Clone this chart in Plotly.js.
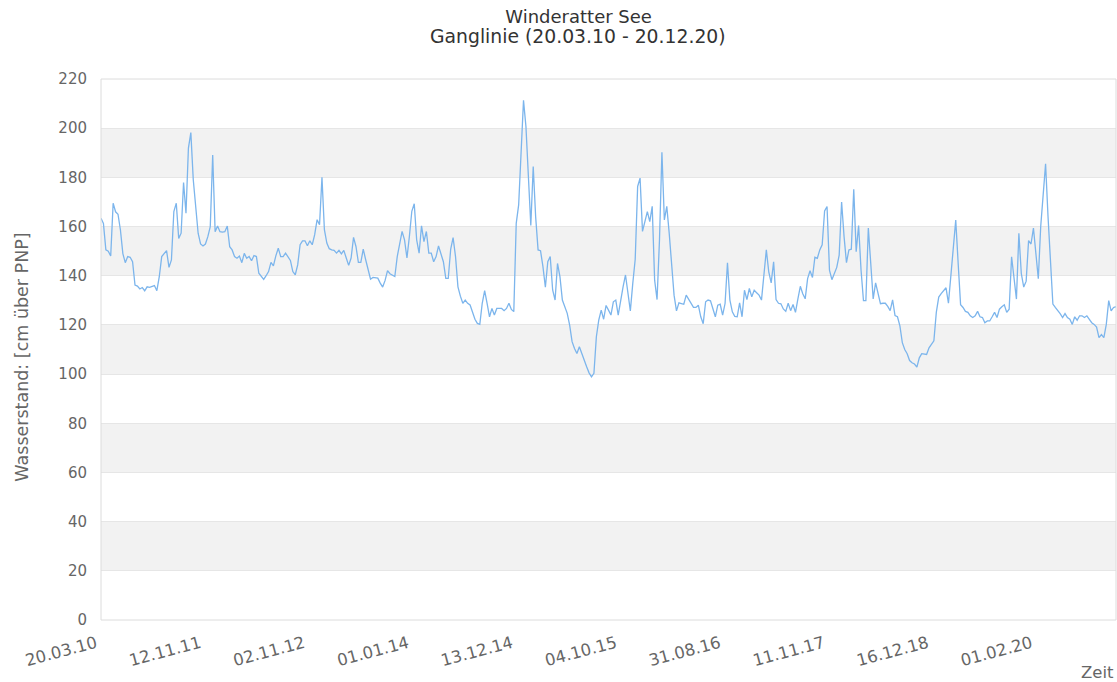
<!DOCTYPE html>
<html><head><meta charset="utf-8">
<script src="https://cdn.plot.ly/plotly-3.0.1.min.js"></script>
<style>html,body{margin:0;padding:0;background:#fff}</style>
</head><body><div id="chart" style="width:1117px;height:682px"></div>
<script>
const titleMain = "Winderatter See";
const titleSub = "Ganglinie (20.03.10 - 20.12.20)";
const yTitle = "Wasserstand: [cm über PNP]";
const xTitle = "Zeit";
const tickLabels = ["20.03.10","12.11.11","02.11.12","01.01.14","13.12.14","04.10.15","31.08.16","11.11.17","16.12.18","01.02.20"];
const pointsPerTick = 42.8;
const yTicks = [0,20,40,60,80,100,120,140,160,180,200,220];
const bandRanges = [[20,40],[60,80],[100,120],[140,160],[180,200]];

const wasserstand = [
163.4,161.3,150.5,150,148,169.5,166,165,158.6,149,
145.3,147.8,147.5,145.7,136.2,135.8,134.6,135.2,133.9,135.5,
135.3,135.6,136,133.9,139.6,147.8,149.1,150.2,143.4,146.4,
166.1,169.5,155.2,157.3,177.9,165.4,191.9,198.2,179,166.8,
157.3,152.9,152.1,152.9,155.9,160,189.1,157.9,160.2,157.9,
157.7,157.9,160.2,151.8,150.5,147.8,147.1,148,145.3,149.1,
147.1,147.8,146.1,148.2,147.8,141,139.5,138.5,140,
141.7,145.4,144,148.1,151.2,147.8,147.8,149.2,147.4,146.2,
141.7,140.4,144.4,152.6,154.2,154.2,152.2,154.2,152.6,156.7,
162.8,160.7,180,158.7,153.3,151,150.5,150.3,149.2,150.3,
148.9,150.3,147.2,144.2,147.2,155.6,151.9,145.4,145.4,150.8,
146.5,142.4,138.6,139.3,139.1,139,137,135.4,138.1,142.1,
140.8,140.2,139.7,147.8,153,158,154.6,147.2,156,166.2,
169.3,154.6,149.2,160.3,153.9,158,149.2,149.2,
145.7,147.8,152.1,148.4,145.7,138.9,138.9,150.7,155.5,147.8,
135.5,131.7,128.8,130.1,128.8,128.1,125.4,122.3,120.6,120.2,
128.8,133.9,128.8,123.3,126.7,124,126.7,126.7,126.7,125.8,
126.7,128.8,126.3,125.4,161.3,168.8,188.5,211.3,200.7,180.3,
160.4,184.4,164,150.5,150.2,143.7,135.3,145.7,147.8,134.2,
130.1,145,139.6,130.1,127.4,124.7,119.9,113.2,110.4,108.4,
111.1,108.1,105.7,103,100.5,98.9,100.3,115.2,122,126,122.3,
127.9,126,124,129.4,130.1,124,130.1,135.5,140.3,133.1,
125.7,136.9,146.7,176.3,179.7,158,162.7,166.1,162,168.2,
138.2,130.3,154.6,190.2,162.7,168.2,157.3,145,132.1,125.7,
129,128.7,128.4,132.1,130.3,129,127.1,127.1,128,123.3,
120.5,129.4,130.1,129.8,126,123.3,128,128.4,124,128.7,
145.3,130.1,125.3,123.5,123.3,129,123.3,134.1,130.3,134.8,
131.4,134.1,133.1,132.1,130.1,139.6,150.5,141.6,137.1,145.7,130.3,
128.8,128.6,126.5,125.5,128.8,125.8,128.3,125.1,130.6,135.7,
132.7,130.6,138.8,142,139.3,147.5,147.1,150.5,152.6,166.3,
168.1,142.3,138.4,140.9,143.4,148.4,170,156,145.3,150.5,
150.8,175.2,149.8,160.4,142.3,129.9,129.9,159.4,145,130.6,
137.1,132.7,128.6,128.8,128.8,127.5,125.8,130.2,123.8,123.3,
119.6,112.8,110,108.3,105.5,104.6,104.1,102.8,106.6,108.3,
108,108,110.7,112.4,113.5,125.1,131.3,132.7,133.8,135.1,128.8,
140,150.5,162.6,145,128.2,127.1,125.5,125.1,123.7,123,
123.7,125.5,123.3,123,120.9,121.6,121.6,123.3,125.1,123,
126.4,127.4,128.2,125.1,126.4,147.7,139.5,130.5,157.3,140.9,
135.4,137.8,154.3,152.9,159.4,147.7,138.8,160.1,171.1,185.5,
164.2,143.6,128.5,127.1,126,124.6,123,124.6,123,122.3,
120.2,123.3,121.9,123.7,123.7,123,123.7,122.3,120.9,120.2,
119.1,114.8,116.1,114.8,120.2,129.9,125.7,127.1,127.4
];

const lastIndex = wasserstand.length - 1;
const tickVals = tickLabels.map((_, i) => i * pointsPerTick);

const font = "DejaVu Sans, Verdana, sans-serif";
const shapes = bandRanges.map(r => ({
  type: "rect", xref: "paper", yref: "y", x0: 0, x1: 1, y0: r[0], y1: r[1],
  fillcolor: "#f2f2f2", line: {width: 0}, layer: "below"
}));
shapes.push({type: "rect", xref: "paper", yref: "paper", x0: 0, x1: 1, y0: 0, y1: 1,
  line: {color: "#dcdcdc", width: 1}, fillcolor: "rgba(0,0,0,0)", layer: "above"});

const trace = {
  y: wasserstand,
  type: "scatter",
  mode: "lines",
  line: {color: "#7cb5ec", width: 1.3},
  hoverinfo: "y"
};

const layout = {
  width: 1117, height: 682,
  margin: {l: 101, r: 1, t: 79, b: 62},
  paper_bgcolor: "#fff", plot_bgcolor: "#fff",
  showlegend: false,
  font: {family: font, color: "#666", size: 15},
  title: {text: titleMain, x: 0.518, xref: "container", xanchor: "center",
          y: 0.975, yref: "container", yanchor: "middle",
          font: {family: font, size: 18, color: "#333"}},
  xaxis: {range: [0, lastIndex], tickmode: "array", tickvals: tickVals, ticktext: tickLabels,
          tickangle: -15, showgrid: false, zeroline: false, showline: false,
          ticks: "", ticklabelstandoff: 10, ticklabelshift: -5,
          tickfont: {family: font, size: 16.5, color: "#666"}},
  yaxis: {range: [0, 220], tickmode: "array", tickvals: yTicks, showgrid: true,
          gridcolor: "#e6e6e6", gridwidth: 1, zeroline: false, showline: false,
          ticks: "outside", ticklen: 10, tickcolor: "rgba(0,0,0,0)",
          tickfont: {family: font, size: 15, color: "#666"}},
  shapes: shapes,
  annotations: [
    {text: titleSub, xref: "paper", yref: "paper", x: 0.47, y: 1.0777, xanchor: "center", yanchor: "middle",
     showarrow: false, font: {family: font, size: 18.8, color: "#333"}},
    {text: yTitle, xref: "paper", yref: "paper", x: -0.0778, y: 0.485, textangle: -90,
     showarrow: false, xanchor: "center", yanchor: "middle", font: {family: font, size: 17.5, color: "#666"}},
    {text: xTitle, xref: "paper", yref: "paper", x: 1, y: -0.0967, xanchor: "right", yanchor: "middle",
     showarrow: false, font: {family: font, size: 16.5, color: "#666"}}
  ]
};

Plotly.newPlot("chart", [trace], layout, {displayModeBar: false, staticPlot: true});
</script></body></html>
